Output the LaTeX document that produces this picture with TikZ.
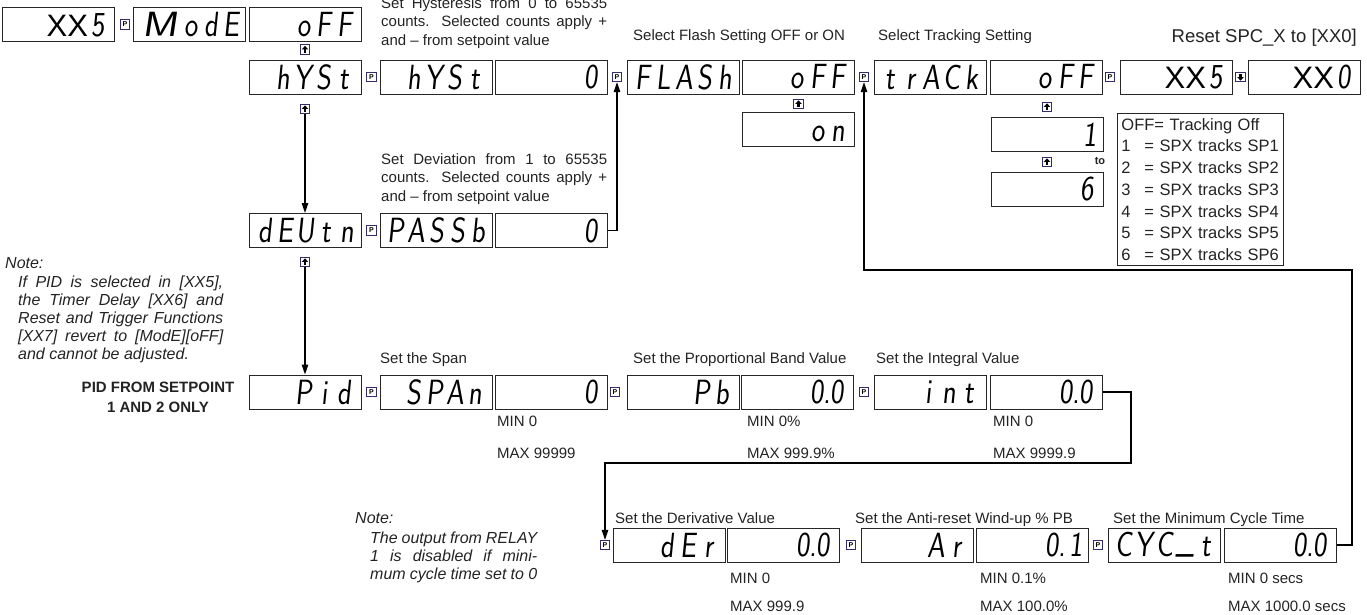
\documentclass[tikz,border=0pt]{standalone}
\usepackage{fontspec}
\usepackage{graphicx}
\setmainfont{Liberation Sans}
\newfontfamily\segf{lmsans17-regular.otf}[FakeStretch=0.82, FakeSlant=0.1]
\usetikzlibrary{arrows.meta}
\definecolor{iconc}{RGB}{50,45,110}
\definecolor{txt}{RGB}{35,35,35}
\def\sgx#1{\ifx\relax#1\else\makebox[20.5pt]{#1}\expandafter\sgx\fi}
\newcommand\sg[1]{\vphantom{E}\sgx#1\relax}
\newcommand\xxt{{\rmfamily\fontsize{31}{31}\selectfont XX}}
\begin{document}
\begin{tikzpicture}[x=1pt,y=-1pt,
  disp/.style={draw=black!85, line width=1pt, minimum width=112pt, minimum height=34pt,
    text width=100pt, inner xsep=6pt, inner ysep=0pt, align=right,
    font=\segf\fontsize{35}{35}\selectfont, text=black},
  picon/.style={draw=iconc, line width=0.8pt, fill=white, minimum size=9.5pt, inner sep=0pt,
    font=\bfseries\fontsize{7}{7}\selectfont},
  uicon/.style={draw=iconc, line width=0.8pt, fill=white, minimum size=9.5pt, inner sep=0pt,
    path picture={
      \fill[black] ([yshift=3.6pt]path picture bounding box.center) -- ([xshift=-3.3pt,yshift=0.1pt]path picture bounding box.center) -- ([xshift=3.3pt,yshift=0.1pt]path picture bounding box.center) -- cycle;
      \fill[black] ([xshift=-1.3pt,yshift=0.5pt]path picture bounding box.center) rectangle ([xshift=1.3pt,yshift=-3.4pt]path picture bounding box.center);}},
  dicon/.style={draw=iconc, line width=0.8pt, fill=white, minimum size=9.5pt, inner sep=0pt,
    path picture={
      \fill[black] ([yshift=-3.6pt]path picture bounding box.center) -- ([xshift=-3.3pt,yshift=-0.1pt]path picture bounding box.center) -- ([xshift=3.3pt,yshift=-0.1pt]path picture bounding box.center) -- cycle;
      \fill[black] ([xshift=-1.3pt,yshift=-0.5pt]path picture bounding box.center) rectangle ([xshift=1.3pt,yshift=3.4pt]path picture bounding box.center);}},
  conn/.style={line width=1.2pt, -{Triangle[length=10pt,width=6.5pt]}},
  lbl/.style={font=\fontsize{15}{18}\selectfont, inner sep=0pt, anchor=base west, text=txt},
  para/.style={font=\fontsize{15}{18.5}\selectfont, inner sep=0pt, anchor=north west,
    text width=226pt, align=justify, text=txt},
  notest/.style={font=\itshape\fontsize{16}{18}\selectfont, inner sep=0pt, anchor=base west, text=txt},
  notep/.style={font=\itshape\fontsize{16}{18}\selectfont, inner sep=0pt, anchor=north west,
    align=justify, text=txt}
]
\useasboundingbox (0,0) rectangle (1367,614);

% ---------- top rows ----------
\node[disp] (xx5a) at (58.5,24.5) {\xxt\sg{5}};
\node[picon] (pA) at (125,24.5) {P};
\node[disp] (mode) at (189.5,24.5) {\vphantom{E}\makebox[41pt]{\scalebox{1.5}[1]{M}}\sg{odE}};
\node[disp] (offa) at (305,24.5) {\sg{oFF}};
\node[uicon] (uA) at (305,49.5) {};

\node[disp] (hyst) at (305,77) {\sg{hYSt}};
\node[picon] (pB) at (371.5,77) {P};
\node[disp] (hyst2) at (436,77) {\sg{hYSt}};
\node[disp] (vhyst) at (551,77) {\sg{0}};
\node[picon] (pC) at (617,77) {P};
\node[disp] (flash) at (683,77) {\sg{FLASh}};
\node[disp] (offf) at (798.5,77) {\sg{oFF}};
\node[picon] (pD) at (864,77) {P};
\node[disp] (track) at (930,77) {\sg{trACk}};
\node[disp] (offt) at (1046.5,77) {\sg{oFF}};
\node[picon] (pE) at (1110,77) {P};
\node[disp] (xx5b) at (1176.5,77) {\xxt\sg{5}};
\node[dicon] (dn) at (1240.5,77) {};
\node[disp] (xx0) at (1304.5,77) {\xxt\sg{0}};

\node[uicon] (uF) at (798.5,104) {};
\node[disp] (on) at (798.5,129.5) {\sg{on}};

\node[uicon] (uT1) at (1047,107) {};
\node[disp] (one) at (1047,134.5) {\sg{{\hfill1}}};
\node[uicon] (uT2) at (1047,162) {};
\node[font=\bfseries\fontsize{11}{11}\selectfont, inner sep=0pt, text=txt] (to) at (1100,161) {to};
\node[disp] (six) at (1047,189) {\sg{6}};

\node[draw=black!85, line width=0.8pt, anchor=north west, minimum width=166pt, minimum height=152pt,
  text width=158pt, inner xsep=4pt, inner ysep=0pt, align=left,
  font=\fontsize{16.5}{21.7}\selectfont, text=txt] (leg) at (1117,113)
  {OFF= Tracking Off\\
   \makebox[23pt][l]{1}= SPX tracks SP1\\
   \makebox[23pt][l]{2}= SPX tracks SP2\\
   \makebox[23pt][l]{3}= SPX tracks SP3\\
   \makebox[23pt][l]{4}= SPX tracks SP4\\
   \makebox[23pt][l]{5}= SPX tracks SP5\\
   \makebox[23pt][l]{6}= SPX tracks SP6};

% ---------- deviation row ----------
\node[uicon] (uB) at (305,109) {};
\node[disp] (deutn) at (305,230.5) {\sg{dEUtn}};
\node[picon] (pF) at (371.5,230.5) {P};
\node[disp] (passb) at (436,230.5) {\sg{PASSb}};
\node[disp] (vpass) at (551,230.5) {\sg{0}};
\node[uicon] (uD) at (305,262) {};

% ---------- PID row ----------
\node[disp] (pid) at (305,392) {\sg{Pid}};
\node[picon] (pG) at (371.5,392) {P};
\node[disp] (span) at (436,392) {\sg{SPAn}};
\node[disp] (vspan) at (551,392) {\sg{0}};
\node[picon] (pH) at (615,392) {P};
\node[disp] (band) at (683,392) {\sg{Pb}};
\node[disp] (vband) at (797.5,392) {\sg{{0\rlap{.}}0}};
\node[picon] (pI) at (864,392) {P};
\node[disp] (int) at (930,392) {\sg{int}};
\node[disp] (vint) at (1046.5,392) {\sg{{0\rlap{.}}0}};

% ---------- bottom row ----------
\node[picon] (pJ) at (605,545) {P};
\node[disp] (der) at (669,545) {\sg{dEr}};
\node[disp] (vder) at (783.5,545) {\sg{{0\rlap{.}}0}};
\node[picon] (pK) at (851,545) {P};
\node[disp] (ar) at (917,545) {\sg{Ar}};
\node[disp] (var) at (1032.5,545) {\sg{{0\rlap{.}}{\hfill1}}};
\node[picon] (pL) at (1098,545) {P};
\node[disp] (cyc) at (1164,545) {\sg{CYC{\raisebox{5pt}{\_}}t}};
\node[disp] (vcyc) at (1280.5,545) {\sg{{0\rlap{.}}0}};

% ---------- connectors ----------
\draw[conn] (uB) -- (deutn);
\draw[conn] (uD) -- (pid);
\draw[conn] (vpass.east) -| (pC);
\coordinate (r1) at (1352,270);
\draw[conn] (vcyc.east) -| (r1) -| (pD);
\coordinate (r2) at (1131,463);
\draw[conn] (vint.east) -| (r2) -| (pJ);

% ---------- texts ----------
\node[para] (thyst) at (381,-2.6) {Set Hysteresis from 0 to 65535\linebreak{} counts. Selected counts apply +\linebreak{} and – from setpoint value};
\node[para] (tdev) at (381,153.4) {Set Deviation from 1 to 65535\linebreak{} counts. Selected counts apply +\linebreak{} and – from setpoint value};
\node[lbl] (tflash) at (633,40.5) {Select Flash Setting OFF or ON};
\node[lbl] (ttrack) at (878,40.5) {Select Tracking Setting};
\node[lbl, anchor=base east, font=\fontsize{18.5}{20}\selectfont] (treset) at (1357,42) {Reset SPC\_X to [XX0]};

\node[lbl] (tspan) at (380,363.5) {Set the Span};
\node[lbl] (tband) at (633,363.5) {Set the Proportional Band Value};
\node[lbl] (tint) at (876,363.5) {Set the Integral Value};
\node[lbl] (m1) at (497,426) {MIN 0};
\node[lbl] (x1) at (497,458) {MAX 99999};
\node[lbl] (m2) at (747,426) {MIN 0\%};
\node[lbl] (x2) at (747,458) {MAX 999.9\%};
\node[lbl] (m3) at (993,426) {MIN 0};
\node[lbl] (x3) at (993,458) {MAX 9999.9};

\node[lbl] (tder) at (615,523) {Set the Derivative Value};
\node[lbl] (tar) at (855,523) {Set the Anti-reset Wind-up \% PB};
\node[lbl] (tcyc) at (1113,523) {Set the Minimum Cycle Time};
\node[lbl] (m4) at (730,583) {MIN 0};
\node[lbl] (x4) at (730,611) {MAX 999.9};
\node[lbl] (m5) at (980,583) {MIN 0.1\%};
\node[lbl] (x5) at (980,611) {MAX 100.0\%};
\node[lbl] (m6) at (1228,583) {MIN 0 secs};
\node[lbl] (x6) at (1228,611) {MAX 1000.0 secs};

\node[notest] (n1) at (5,268) {Note:};
\node[notep, text width=205pt] (n1b) at (18,275.7) {If PID is selected in [XX5],\linebreak{} the Timer Delay [XX6] and\linebreak{} Reset and Trigger Functions\linebreak{} [XX7] revert to [ModE][oFF]\linebreak{} and cannot be adjusted.};
\node[font=\bfseries\fontsize{15}{20}\selectfont, align=center, inner sep=0pt, text=txt] (pidnote) at (158,397) {PID FROM SETPOINT\\1 AND 2 ONLY};

\node[notest] (n2) at (355,523) {Note:};
\node[notep, text width=167pt] (n2b) at (370,531.7) {The output from RELAY\linebreak{} 1 is disabled if mini-\linebreak{} mum cycle time set to 0};
\end{tikzpicture}
\end{document}
